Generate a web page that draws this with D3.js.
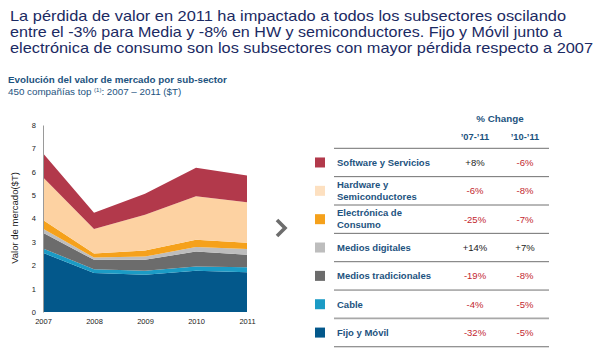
<!DOCTYPE html>
<html>
<head>
<meta charset="utf-8">
<script src="https://cdn.jsdelivr.net/npm/d3@7"></script>
<style>
html,body{margin:0;padding:0;background:#fff;}
svg{display:block;font-family:"Liberation Sans",Arial,sans-serif;}
</style>
</head>
<body>
<svg id="chart" width="600" height="358"></svg>
<script>
// ---- data ----
const years = [2007, 2008, 2009, 2010, 2011];
const seriesKeys = ["fijo", "cable", "mtrad", "mdig", "elec", "hw", "sw"]; // bottom -> top
const fijo  = [2.53, 1.67, 1.59, 1.77, 1.70];
const cable = [0.19, 0.16, 0.18, 0.18, 0.21];
const mtrad = [0.67, 0.40, 0.46, 0.64, 0.54];
const mdig  = [0.17, 0.10, 0.14, 0.19, 0.24];
const elec  = [0.38, 0.17, 0.26, 0.31, 0.27];
const hw    = [1.82, 1.05, 1.53, 1.86, 1.74];
const sw    = [1.03, 0.70, 0.90, 1.22, 1.14];
const yTicks = [0, 1, 2, 3, 4, 5, 6, 7, 8];

const legendKeys = ["sw", "hw", "elec", "mdig", "mtrad", "cable", "fijo"];
const legendLabels = [
  ["Software y Servicios"],
  ["Hardware y", "Semiconductores"],
  ["Electrónica de", "Consumo"],
  ["Medios digitales"],
  ["Medios tradicionales"],
  ["Cable"],
  ["Fijo y Móvil"]
];
const change0711 = ["+8%", "-6%", "-25%", "+14%", "-19%", "-4%", "-32%"];
const change1011 = ["-6%", "-8%", "-7%", "+7%", "-8%", "-5%", "-5%"];

const titleLines = [
  "La pérdida de valor en 2011 ha impactado a todos los subsectores oscilando",
  "entre el -3% para Media y -8% en HW y semiconductores. Fijo y Móvil junto a",
  "electrónica de consumo son los subsectores con mayor pérdida respecto a 2007"
];
const titleWidths = [556, 552, 583];

// ---- styles ----
const colors = {
  sw: "#b2394b", hw: "#fdd2a2", elec: "#f5a11b", mdig: "#bdbdbd",
  mtrad: "#6c6c6c", cable: "#1b9bc5", fijo: "#03588b"
};
const legendColors = Object.assign({}, colors, {hw: "#fde0c0"});
const navy = "#1b2a63";
const teal = "#1d5380";
const red = "#c3272f";

const svg = d3.select("#chart");

// title
svg.append("g").selectAll("text").data(titleLines).join("text")
  .attr("x", 10).attr("y", (d, i) => 20.7 + i * 16)
  .attr("font-size", 14.6).attr("fill", navy)
  .attr("textLength", (d, i) => titleWidths[i]).attr("lengthAdjust", "spacingAndGlyphs")
  .text(d => d);

// subtitle
svg.append("text").attr("x", 8).attr("y", 82.5)
  .attr("font-size", 9.8).attr("font-weight", "bold").attr("fill", teal)
  .text("Evolución del valor de mercado por sub-sector");
const sub = svg.append("text").attr("x", 8).attr("y", 95)
  .attr("font-size", 9.8).attr("fill", teal);
sub.append("tspan").text("450 compañías top ");
sub.append("tspan").attr("font-size", 6).attr("dy", -3.5).text("(1)");
sub.append("tspan").attr("dy", 3.5).text(": 2007 – 2011 ($T)");

// chart
const x = d3.scaleLinear().domain([2007, 2011]).range([43, 247]);
const y = d3.scaleLinear().domain([0, 8]).range([312, 125]);

const table = years.map((yr, i) => ({
  year: yr, fijo: fijo[i], cable: cable[i], mtrad: mtrad[i], mdig: mdig[i],
  elec: elec[i], hw: hw[i], sw: sw[i]
}));
const stacked = d3.stack().keys(seriesKeys)(table);
const area = d3.area().x(d => x(d.data.year)).y0(d => y(d[0])).y1(d => y(d[1]));

svg.append("g").selectAll("path").data(stacked).join("path")
  .attr("d", area).attr("fill", d => colors[d.key]);

// y axis
const yAxis = d3.axisLeft(y).tickValues(yTicks).tickSize(0).tickPadding(7).tickFormat(d3.format("d"));
const yg = svg.append("g").attr("transform", "translate(43,0)").call(yAxis);
yg.select(".domain").attr("stroke", "#9a9a9a").attr("stroke-width", 1);
yg.selectAll("text").attr("font-size", 7.5).attr("fill", "#222")
  .attr("font-family", "'Liberation Sans',Arial,sans-serif");

// x axis
const xAxis = d3.axisBottom(x).tickValues(years).tickSize(0).tickPadding(7).tickFormat(d3.format("d"));
const xg = svg.append("g").attr("transform", "translate(0,312)").call(xAxis);
xg.select(".domain").remove();
xg.selectAll("text").attr("font-size", 7.5).attr("fill", "#222")
  .attr("font-family", "'Liberation Sans',Arial,sans-serif");

// y label
svg.append("text").attr("transform", "translate(18,218) rotate(-90)")
  .attr("text-anchor", "middle").attr("font-size", 9.5).attr("fill", "#222")
  .text("Valor de mercado($T)");

// arrow
svg.append("path").attr("d", "M277,220 L285,228 L277,236")
  .attr("fill", "none").attr("stroke", "#6d6d6d").attr("stroke-width", 3.6);

// legend table
const col1 = 475, col2 = 525, lineX0 = 334, lineX1 = 549;
const rowTop = 148.3, rowH = 28.35;

svg.append("text").attr("x", 500).attr("y", 122).attr("text-anchor", "middle")
  .attr("font-size", 9.8).attr("font-weight", "bold").attr("fill", teal).text("% Change");
svg.append("text").attr("x", col1).attr("y", 140).attr("text-anchor", "middle")
  .attr("font-size", 9.3).attr("font-weight", "bold").attr("fill", teal).text("’07-’11");
svg.append("text").attr("x", col2).attr("y", 140).attr("text-anchor", "middle")
  .attr("font-size", 9.3).attr("font-weight", "bold").attr("fill", teal).text("’10-’11");

// rules
d3.range(legendKeys.length + 1).forEach(i => {
  svg.append("line").attr("x1", lineX0).attr("x2", lineX1)
    .attr("y1", rowTop + i * rowH).attr("y2", rowTop + i * rowH)
    .attr("stroke", i === 6 ? "#a8a8a8" : "#707070").attr("stroke-width", i === 6 ? 1.6 : 1);
});

const rows = svg.append("g").selectAll("g").data(legendKeys).join("g")
  .attr("transform", (d, i) => `translate(0,${rowTop + i * rowH + rowH / 2})`);
rows.append("rect").attr("x", 315).attr("y", -5).attr("width", 10).attr("height", 10)
  .attr("fill", d => legendColors[d]);
rows.each(function(d, i) {
  const g = d3.select(this);
  const lines = legendLabels[i];
  lines.forEach((ln, j) => {
    g.append("text").attr("x", 337)
      .attr("y", lines.length === 1 ? 3.4 : (j === 0 ? -2.8 : 9.3))
      .attr("font-size", 9.5).attr("font-weight", "bold").attr("fill", teal).text(ln);
  });
  g.append("text").attr("x", col1).attr("y", 3.4).attr("text-anchor", "middle")
    .attr("font-size", 9.5).attr("fill", change0711[i].startsWith("-") ? red : "#222").text(change0711[i]);
  g.append("text").attr("x", col2).attr("y", 3.4).attr("text-anchor", "middle")
    .attr("font-size", 9.5).attr("fill", change1011[i].startsWith("-") ? red : "#222").text(change1011[i]);
});
</script>
</body>
</html>
